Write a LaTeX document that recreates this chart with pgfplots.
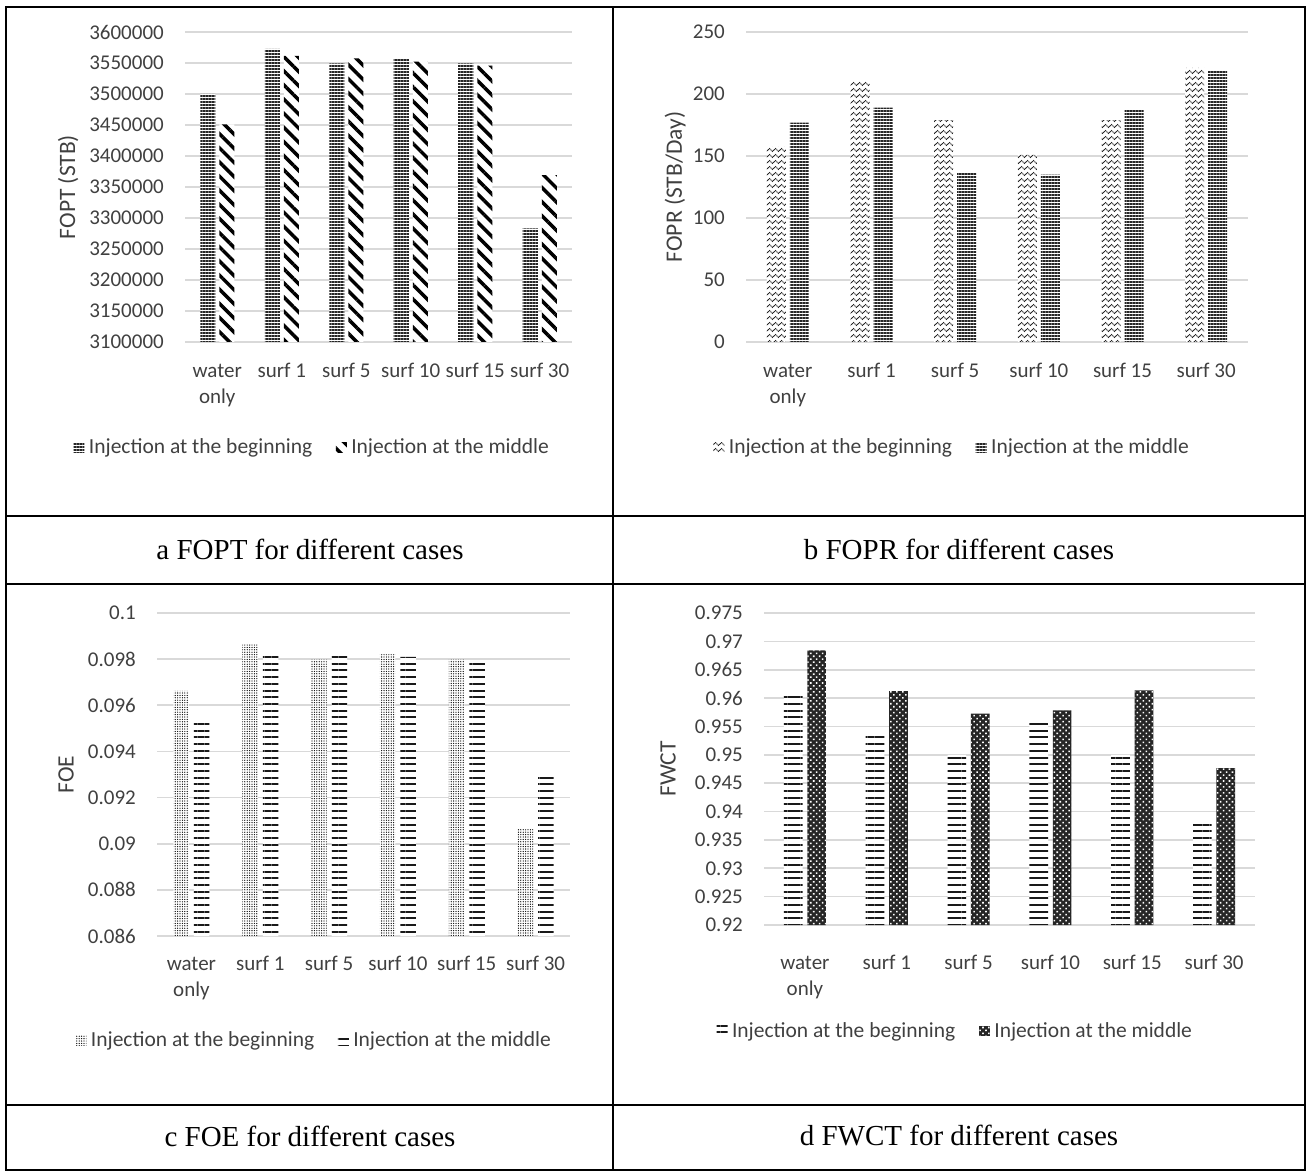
\documentclass[border=0pt]{standalone}
\usepackage{fontspec}
\setmainfont{Carlito}
\newfontfamily\capfont{Liberation Serif}
\usepackage{pgfplots}
\pgfplotsset{compat=1.18}
\usetikzlibrary{patterns,patterns.meta}

\definecolor{txt}{RGB}{64,64,64}
\definecolor{gridc}{RGB}{217,217,217}

\tikzdeclarepattern{
  name=wave,
  type=uncolored,
  bounding box={(-1pt,-1pt) and (7pt,7pt)},
  tile size={(6pt,6pt)},
  code={\draw[line width=0.9pt, dash pattern=on 1.2pt off 0.6pt] (0pt,3pt) sin (1.5pt,4.5pt) cos (3pt,3pt) sin (4.5pt,1.5pt) cos (6pt,3pt);}
}

\pgfplotsset{
  mylegend/.style={legend image code/.code={\draw[##1,draw=none] (0pt,-5pt) rectangle (11pt,5pt);}},
  excel/.style={
    scale only axis, anchor=south west,
    axis line style={draw=none}, major tick length=0pt, tick style={draw=none},
    ymajorgrids, grid style={draw=gridc, line width=1.7pt},
    xmin=-0.5, xmax=5.5, xtick={0,1,2,3,4,5},
    xticklabels={{\vphantom{Af}water\\only},{\vphantom{Af}surf 1},{\vphantom{Af}surf 5},{\vphantom{Af}surf 10},{\vphantom{Af}surf 15},{\vphantom{Af}surf 30}},
    tick label style={font=\fontsize{21}{26}\selectfont, text=txt, inner sep=0pt},
    xticklabel style={align=center, anchor=north},
    yticklabel style={anchor=east, xshift=-21pt},
    /pgf/number format/assume math mode=true,
    /pgf/number format/fixed, /pgf/number format/1000 sep={}, /pgf/number format/precision=3,
    scaled y ticks=false,
    ylabel style={font=\fontsize{23.5}{28}\selectfont, text=txt, anchor=center},
    legend columns=2,
    legend cell align=left,
    legend style={draw=none, fill=none, font=\fontsize{21.5}{26}\selectfont, text=txt,
      /tikz/every even column/.append style={column sep=22pt},
      /tikz/every odd column/.append style={column sep=3pt},
      inner sep=0pt, nodes={inner sep=1.5pt}},
  },
  hdense/.style={draw=none, preaction={fill=white}, pattern={Lines[angle=0,distance=3pt,line width=1.6pt]}, pattern color=black!85, mylegend},
  diag/.style={draw=none, preaction={fill=white}, pattern={Lines[angle=-45,distance=10pt,line width=3.5pt]}, pattern color=black, mylegend},
  wavy/.style={draw=none, preaction={fill=white}, pattern=wave, pattern color=black!85, mylegend},
  dotty/.style={draw=none, preaction={fill=white}, pattern={Dots[distance=2.4pt,radius=0.65pt]}, pattern color=black, mylegend},
  hsparse/.style={draw=none, preaction={fill=white}, pattern={Lines[angle=0,distance=6.7pt,line width=2pt]}, pattern color=black!90, mylegend},
  checker/.style={draw=none, preaction={fill=black!85}, pattern={Dots[angle=45,distance=4.2pt,radius=1.1pt]}, pattern color=white, mylegend},
}

\begin{document}
\begin{tikzpicture}
\path[use as bounding box] (0pt,0pt) rectangle (1308pt,1173pt);

% ---------- a: FOPT ----------
\begin{axis}[excel, at={(185pt,831pt)}, width=387pt, height=310pt,
  ybar=4pt, bar width=15pt,
  ymin=3100000, ymax=3600000,
  ytick={3100000,3150000,3200000,3250000,3300000,3350000,3400000,3450000,3500000,3550000,3600000},
  ylabel={FOPT (STB)}, ylabel style={at={(axis description cs:-0.302,0.5)}},
  xticklabel style={yshift=-20.5pt},
  legend style={at={(axis description cs:0.328,-0.339)}, anchor=center}]
\addplot[hdense] coordinates {(0,3500000) (1,3572600) (2,3549500) (3,3556400) (4,3549500) (5,3283300)};
\addplot[diag] coordinates {(0,3451000) (1,3561300) (2,3557500) (3,3552200) (4,3545700) (5,3369300)};
\legend{Injection at the beginning, Injection at the middle}
\end{axis}

% ---------- b: FOPR ----------
\begin{axis}[excel, at={(746pt,831pt)}, width=502pt, height=310pt,
  ybar=4pt, bar width=19pt,
  ymin=0, ymax=250, ytick={0,50,100,150,200,250},
  ylabel={FOPR (STB/Day)}, ylabel style={at={(axis description cs:-0.141,0.5)}},
  xticklabel style={yshift=-20.5pt},
  legend style={at={(axis description cs:0.410,-0.339)}, anchor=center}]
\addplot[wavy] coordinates {(0,158) (1,211) (2,179) (3,151) (4,179) (5,221)};
\addplot[hdense] coordinates {(0,177) (1,189) (2,137) (3,135) (4,187) (5,219)};
\legend{Injection at the beginning, Injection at the middle}
\end{axis}

% ---------- c: FOE ----------
\begin{axis}[excel, at={(157pt,237pt)}, width=413pt, height=323pt,
  ybar=5pt, bar width=15.5pt,
  ymin=0.086, ymax=0.1, ytick={0.086,0.088,0.09,0.092,0.094,0.096,0.098,0.1},
  ylabel={FOE}, ylabel style={at={(axis description cs:-0.220,0.5)}},
  xticklabel style={yshift=-19.5pt},
  legend style={at={(axis description cs:0.380,-0.322)}, anchor=center}]
\addplot[dotty] coordinates {(0,0.09662) (1,0.09863) (2,0.09798) (3,0.09821) (4,0.09798) (5,0.09064)};
\addplot[hsparse] coordinates {(0,0.09531) (1,0.09814) (2,0.09814) (3,0.09810) (4,0.09785) (5,0.09302)};
\legend{Injection at the beginning, Injection at the middle}
\end{axis}

% ---------- d: FWCT ----------
\begin{axis}[excel, at={(764pt,248pt)}, width=491pt, height=312pt,
  ybar=4.7pt, bar width=18.7pt,
  ymin=0.92, ymax=0.975,
  ytick={0.92,0.925,0.93,0.935,0.94,0.945,0.95,0.955,0.96,0.965,0.97,0.975},
  ylabel={FWCT}, ylabel style={at={(axis description cs:-0.1955,0.5)}},
  xticklabel style={yshift=-30pt},
  legend style={at={(axis description cs:0.389,-0.339)}, anchor=center}]
\addplot[hsparse] coordinates {(0,0.96048) (1,0.95342) (2,0.95001) (3,0.95589) (4,0.95001) (5,0.93842)};
\addplot[checker] coordinates {(0,0.96842) (1,0.96124) (2,0.95725) (3,0.95783) (4,0.96136) (5,0.94765)};
\legend{Injection at the beginning, Injection at the middle}
\end{axis}

% ---------- table frame ----------
\begin{scope}[line width=2.5pt]
\draw (6pt,3pt) rectangle (1305pt,1166pt);
\draw (6pt,657pt) -- (1305pt,657pt);
\draw (6pt,589pt) -- (1305pt,589pt);
\draw (6pt,68pt) -- (1305pt,68pt);
\draw (613pt,3pt) -- (613pt,1166pt);
\end{scope}

% ---------- captions ----------
\begin{scope}[font=\capfont\fontsize{29}{34}\selectfont]
\node at (310pt,624pt) {a FOPT for different cases};
\node at (959pt,624pt) {b FOPR for different cases};
\node at (310pt,37pt) {c FOE for different cases};
\node at (959pt,37pt) {d FWCT for different cases};
\end{scope}
\end{tikzpicture}
\end{document}
